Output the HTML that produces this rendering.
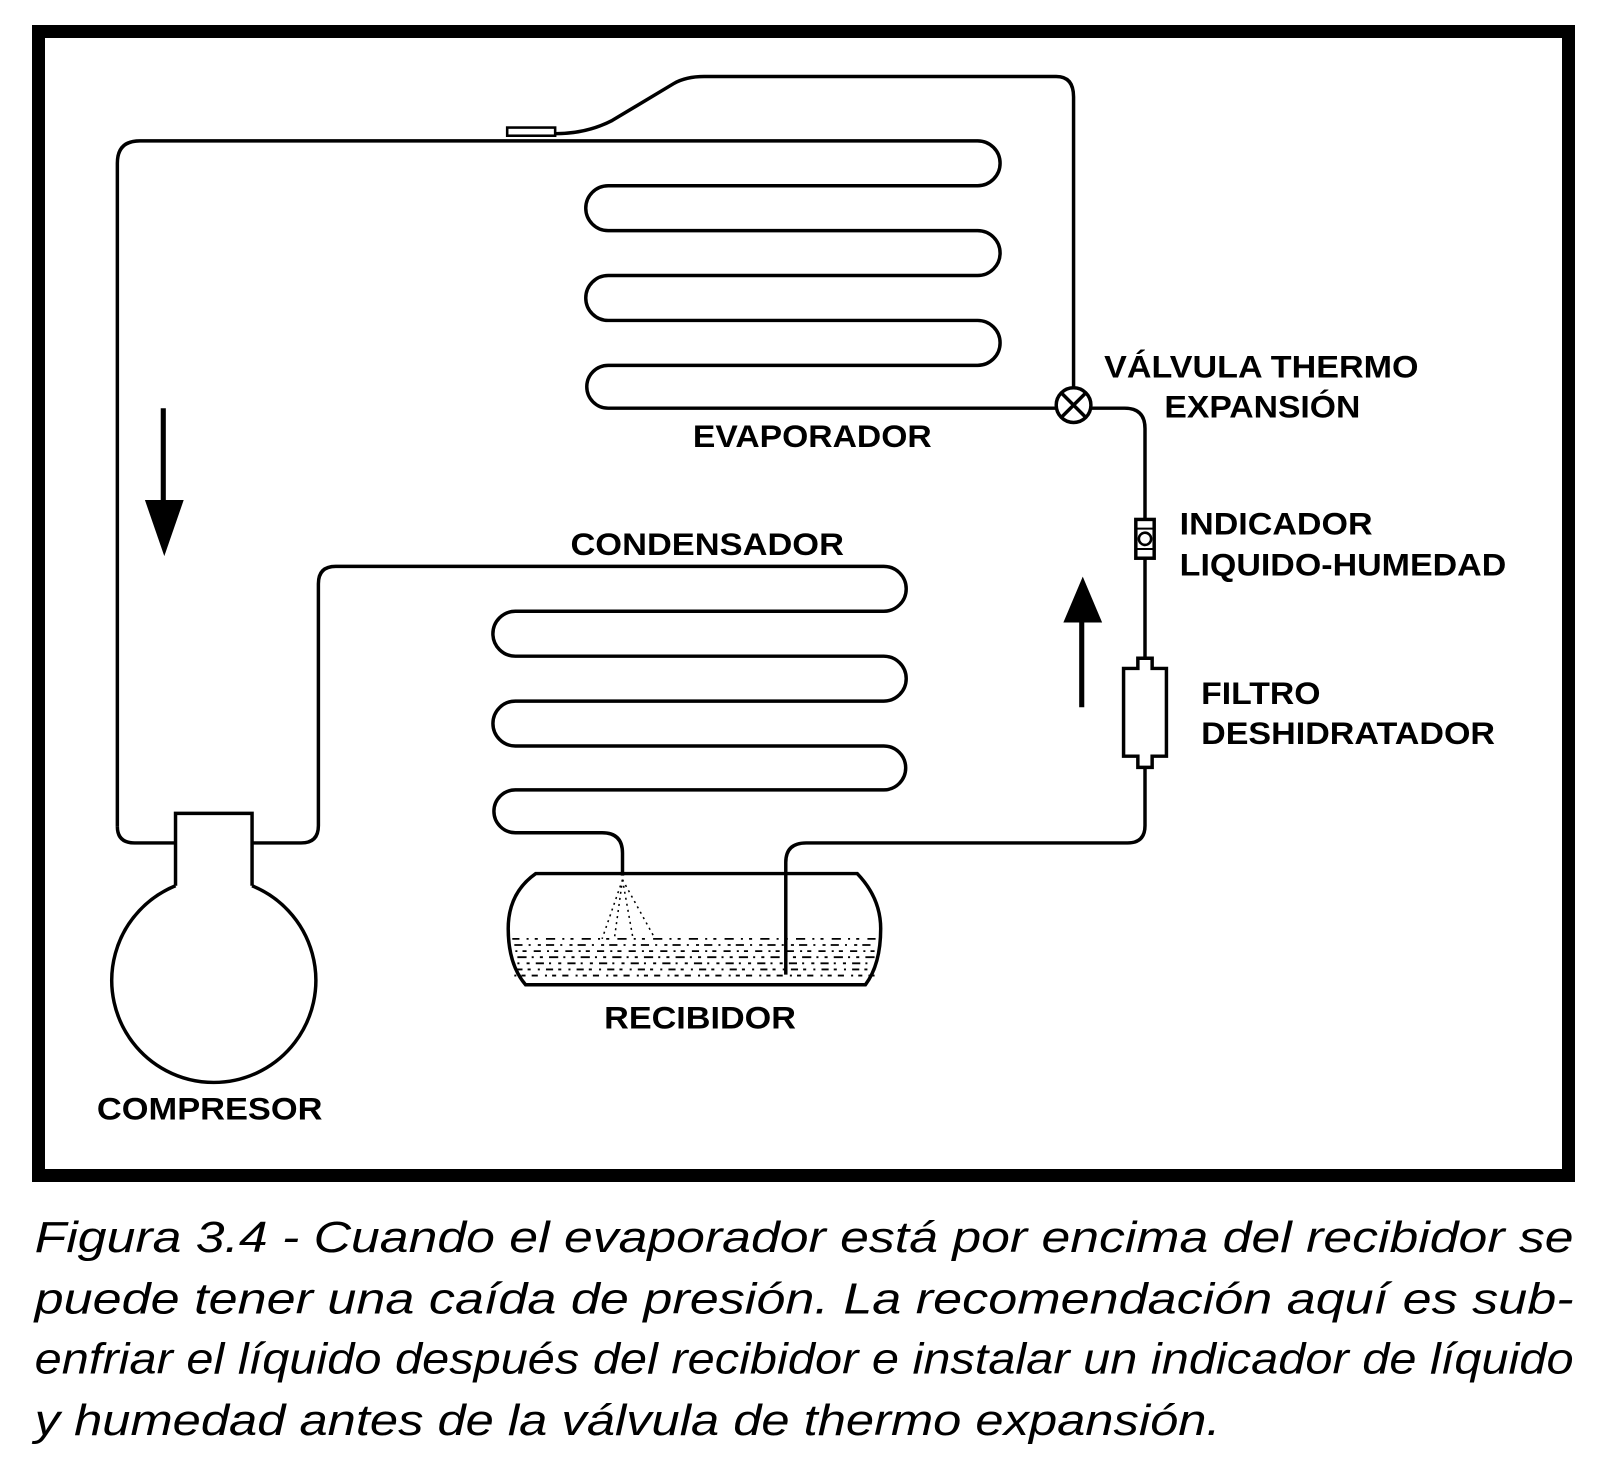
<!DOCTYPE html>
<html><head><meta charset="utf-8"><style>
html,body{margin:0;padding:0;background:#fff;}
svg{display:block;}
.t{font-family:"Liberation Sans",Arial,sans-serif;font-weight:bold;font-size:31px;fill:#000;}
.c{font-family:"Liberation Sans",Arial,sans-serif;font-style:italic;font-size:43px;fill:#000;}
</style></head><body>
<svg width="1600" height="1477" viewBox="0 0 1600 1477" xmlns="http://www.w3.org/2000/svg">
<rect x="0" y="0" width="1600" height="1477" fill="#fff"/>
<rect x="38.5" y="31.5" width="1530" height="1144" fill="none" stroke="#000" stroke-width="13"/>
<g transform="scale(1.0205)">
<g fill="none" stroke="#000" stroke-width="3.4">
<path d="M115,810 V160 Q115,138 137,138 H958 A22,22 0 0 1 958,182 H596 A22,22 0 0 0 596,226 H958 A22,22 0 0 1 958,270 H596 A22,22 0 0 0 596,314 H958 A22,22 0 0 1 958,358 H596 A21,21 0 0 0 596,400 H1035"/>
<path d="M115,810 Q115,826 132,826 H172"/>
<rect x="497" y="125" width="47" height="8" fill="#fff" stroke-width="2.5"/>
<path d="M544,131 Q575,131 600,118 L660,82 Q672,75 690,75 H1035 Q1052,75 1052,95 V380"/>
<path d="M247,826 H295 Q312,826 312,809 V572 Q312,555 329,555 H866 A22,22 0 0 1 866,599 H505 A22,22 0 0 0 505,643 H866 A22,22 0 0 1 866,687 H505 A22,22 0 0 0 505,731 H866 A21.5,21.5 0 0 1 866,774 H505 A21,21 0 0 0 505,816 H590 Q610,816 610,836 V858"/>
<path d="M770,955 V845 Q770,826 790,826 H1105 Q1122,826 1122,809 V752"/>
<path d="M1122,645 V548 M1122,508 V420 Q1122,400 1102,400 H1069"/>
<circle cx="1052" cy="397" r="17" fill="#fff"/>
<path d="M1040,385 L1064,409 M1064,385 L1040,409"/>
<rect x="1113" y="509" width="18" height="38" fill="#fff"/>
<path d="M1113,518 H1131 M1113,538 H1131" stroke-width="2"/>
<circle cx="1122" cy="528" r="6" stroke-width="2.5"/>
<path d="M1115,752 V741 H1101 V655 H1115 V645 H1129 V655 H1143 V741 H1129 V752 Z" fill="#fff"/>
<path d="M172,868 V797 H247 V868"/>
<path d="M172,868 A100,100 0 1 0 247,868"/>
<path d="M525,856 H840 Q863,880 863,910 Q863,945 848,965 H515 Q498,945 498,910 Q498,875 525,856 Z"/>
</g>
<clipPath id="rc"><rect x="502" y="915" width="356" height="48"/></clipPath>
<g clip-path="url(#rc)" stroke="#000" stroke-width="1.8" fill="none">
<path d="M500,920 H860" stroke-dasharray="9 7 2 6 3 8"/>
<path d="M500,926 H860" stroke-dasharray="3 5 8 6 2 7" stroke-dashoffset="4"/>
<path d="M500,932 H860" stroke-dasharray="7 6 2 5 4 7" stroke-dashoffset="8"/>
<path d="M500,938 H860" stroke-dasharray="3 6 9 5 2 6" stroke-dashoffset="2"/>
<path d="M500,944 H860" stroke-dasharray="8 5 2 7 3 6" stroke-dashoffset="6"/>
<path d="M500,950 H860" stroke-dasharray="2 6 7 5 3 7" stroke-dashoffset="3"/>
<path d="M500,956 H860" stroke-dasharray="6 7 2 5 4 6" stroke-dashoffset="9"/>
</g>
<g stroke="#000" stroke-width="1.5" stroke-dasharray="2 4" fill="none">
<path d="M610,862 L590,920 M610,862 L602,920 M610,862 L620,918 M610,862 L642,920"/>
</g>
<path d="M160,400 V495" stroke="#000" stroke-width="5"/>
<path d="M142,490 H180 L161,545 Z" fill="#000"/>
<path d="M1060,693 V605" stroke="#000" stroke-width="5"/>
<path d="M1042,610 H1080 L1061,565 Z" fill="#000"/>
<text class="t" x="1082" y="370" textLength="308" lengthAdjust="spacingAndGlyphs">VÁLVULA THERMO</text>
<text class="t" x="1141" y="409" textLength="192" lengthAdjust="spacingAndGlyphs">EXPANSIÓN</text>
<text class="t" x="679" y="438" textLength="234" lengthAdjust="spacingAndGlyphs">EVAPORADOR</text>
<text class="t" x="559" y="544" textLength="268" lengthAdjust="spacingAndGlyphs">CONDENSADOR</text>
<text class="t" x="1156" y="524" textLength="189" lengthAdjust="spacingAndGlyphs">INDICADOR</text>
<text class="t" x="1156" y="564" textLength="320" lengthAdjust="spacingAndGlyphs">LIQUIDO-HUMEDAD</text>
<text class="t" x="1177" y="690" textLength="117" lengthAdjust="spacingAndGlyphs">FILTRO</text>
<text class="t" x="1177" y="729" textLength="288" lengthAdjust="spacingAndGlyphs">DESHIDRATADOR</text>
<text class="t" x="592" y="1008" textLength="188" lengthAdjust="spacingAndGlyphs">RECIBIDOR</text>
<text class="t" x="95" y="1097" textLength="221" lengthAdjust="spacingAndGlyphs">COMPRESOR</text>
<text class="c" x="34" y="1227" textLength="1508" lengthAdjust="spacingAndGlyphs">Figura 3.4 - Cuando el evaporador está por encima del recibidor se</text>
<text class="c" x="34" y="1287" textLength="1508" lengthAdjust="spacingAndGlyphs">puede tener una caída de presión. La recomendación aquí es sub-</text>
<text class="c" x="34" y="1346" textLength="1508" lengthAdjust="spacingAndGlyphs">enfriar el líquido después del recibidor e instalar un indicador de líquido</text>
<text class="c" x="34" y="1406" textLength="1162" lengthAdjust="spacingAndGlyphs">y humedad antes de la válvula de thermo expansión.</text>
</g>
</svg>
</body></html>
